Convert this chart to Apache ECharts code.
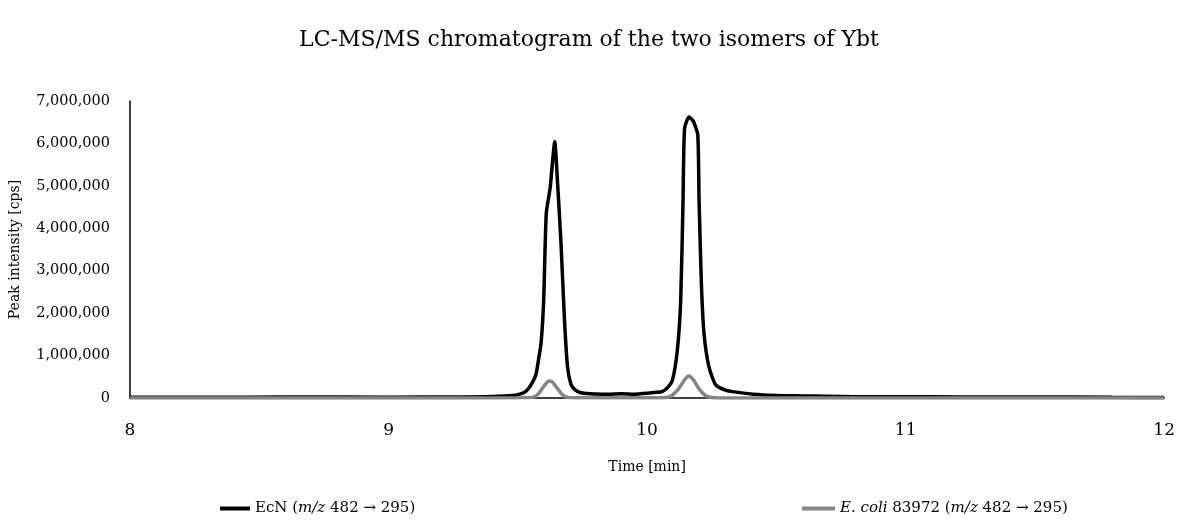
<!DOCTYPE html>
<html>
<head>
<meta charset="utf-8">
<script src="https://cdn.jsdelivr.net/npm/echarts@6/dist/echarts.min.js"></script>
<style>
  html, body { margin: 0; padding: 0; background: #fff; }
  #chart { width: 1178px; height: 522px; }
</style>
</head>
<body>
<div id="chart"></div>
<script>
// EcN trace (time in min, intensity in cps)
const ecnTime = [8.0, 8.3, 8.6, 9.0, 9.3, 9.45, 9.5, 9.53, 9.55, 9.57, 9.58, 9.59, 9.60, 9.61, 9.625, 9.643, 9.652, 9.667, 9.68, 9.692, 9.705, 9.72, 9.74, 9.78, 9.85, 9.9, 9.95, 10.0, 10.03, 10.058, 10.08, 10.098, 10.117, 10.13, 10.139, 10.145, 10.162, 10.179, 10.196, 10.201, 10.21, 10.22, 10.239, 10.265, 10.3, 10.33, 10.41, 10.5, 10.6, 10.8, 11.0, 11.2, 11.5, 11.8, 12.0];
const ecnIntensity = [20000, 18000, 22000, 20000, 25000, 50000, 80000, 150000, 300000, 550000, 900000, 1300000, 2300000, 4350000, 4950000, 6040000, 5250000, 3650000, 1900000, 750000, 330000, 200000, 130000, 100000, 90000, 100000, 90000, 110000, 130000, 150000, 250000, 420000, 1130000, 2300000, 4670000, 6360000, 6620000, 6520000, 6200000, 4670000, 2700000, 1530000, 740000, 310000, 190000, 150000, 90000, 60000, 50000, 30000, 30000, 25000, 25000, 15000, 10000];

// E. coli 83972 trace
const ecoliTime = [8.0, 9.0, 9.5, 9.56, 9.58, 9.60, 9.615, 9.625, 9.635, 9.65, 9.67, 9.69, 9.72, 10.05, 10.09, 10.12, 10.145, 10.162, 10.18, 10.2, 10.225, 10.25, 10.3, 12.0];
const ecoliIntensity = [0, 0, 5000, 20000, 100000, 270000, 380000, 400000, 370000, 250000, 90000, 20000, 5000, 5000, 40000, 200000, 430000, 520000, 420000, 220000, 60000, 10000, 0, 0];

const seriesNames = ['EcN', 'E. coli'];
const xTicks = [8, 9, 10, 11, 12];
const yTicks = [0, 1000000, 2000000, 3000000, 4000000, 5000000, 6000000, 7000000];

const font = '"DejaVu Serif", "Liberation Serif", serif';
const chart = echarts.init(document.getElementById('chart'));

const legendRich = {
  n: { fontFamily: font, fontSize: 15, color: '#000' },
  i: { fontFamily: font, fontSize: 15, color: '#000', fontStyle: 'italic' }
};

chart.setOption({
  animation: false,
  backgroundColor: '#fff',
  title: {
    text: 'LC-MS/MS chromatogram of the two isomers of Ybt',
    left: 'center',
    top: 24,
    textStyle: { fontFamily: font, fontSize: 22, fontWeight: 'normal', color: '#000' }
  },
  legend: [
    {
      data: [seriesNames[0]],
      left: 215, top: 496,
      itemWidth: 30, itemHeight: 4, icon: 'rect',
      formatter: () => '{n|EcN (}{i|m/z}{n| 482 → 295)}',
      textStyle: { rich: legendRich }
    },
    {
      data: [seriesNames[1]],
      left: 797, top: 496,
      itemWidth: 33, itemHeight: 4, icon: 'rect',
      formatter: () => '{i|E. coli}{n| 83972 (}{i|m/z}{n| 482 → 295)}',
      textStyle: { rich: legendRich }
    }
  ],
  grid: { left: 130, right: 12, top: 101, bottom: 124 },
  xAxis: {
    type: 'value',
    min: xTicks[0], max: xTicks[xTicks.length - 1], interval: 1,
    name: 'Time [min]', nameLocation: 'middle', nameGap: 62,
    nameTextStyle: { fontFamily: font, fontSize: 14, color: '#000' },
    axisLine: { show: true, lineStyle: { color: '#000', width: 1.5 } },
    axisTick: { show: false },
    splitLine: { show: false },
    axisLabel: { fontFamily: font, fontSize: 17, color: '#000', margin: 24 }
  },
  yAxis: {
    type: 'value',
    min: yTicks[0], max: yTicks[yTicks.length - 1], interval: 1000000,
    name: 'Peak intensity [cps]', nameLocation: 'middle', nameGap: 108,
    nameTextStyle: { fontFamily: font, fontSize: 14, color: '#000' },
    axisLine: { show: true, lineStyle: { color: '#000', width: 1.5 } },
    axisTick: { show: false },
    splitLine: { show: false },
    axisLabel: {
      fontFamily: font, fontSize: 14.5, color: '#000', margin: 20,
      formatter: v => v.toLocaleString('en-US')
    }
  },
  series: [
    {
      name: seriesNames[0],
      type: 'line',
      data: ecnTime.map((t, i) => [t, ecnIntensity[i]]),
      showSymbol: false,
      smooth: 0.2,
      lineStyle: { color: '#000', width: 3.5 },
      itemStyle: { color: '#000' },
      z: 2
    },
    {
      name: seriesNames[1],
      type: 'line',
      data: ecoliTime.map((t, i) => [t, ecoliIntensity[i]]),
      showSymbol: false,
      smooth: 0.2,
      lineStyle: { color: '#858585', width: 3.5 },
      itemStyle: { color: '#858585' },
      z: 3
    }
  ]
});
</script>
</body>
</html>
